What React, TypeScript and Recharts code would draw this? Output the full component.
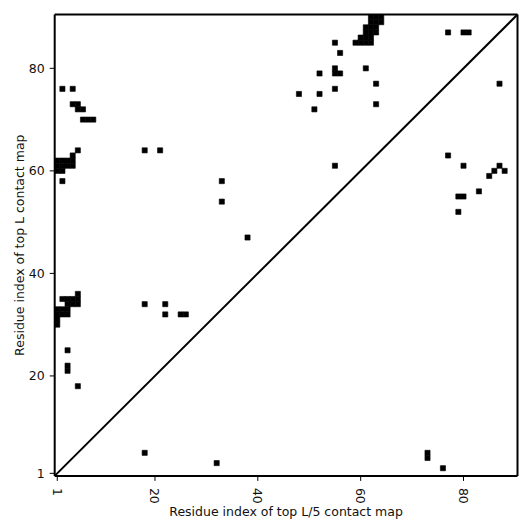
import React from "react";
import {
  ScatterChart,
  XAxis,
  YAxis,
  ReferenceArea,
  ReferenceLine,
} from "recharts";

// residue count, axes run 0.5 .. L + 0.5
const seqLength = 90;
const axisTicks = [1, 20, 40, 60, 80];

// top L contacts (upper triangle), [i, j]
const topLContacts: [number, number][] = [
  [2, 76], [4, 76], [4, 73], [5, 73], [5, 72], [6, 72], [6, 70], [7, 70], [8, 70],
  [5, 64], [18, 64], [21, 64], [4, 63],
  [1, 62], [2, 62], [3, 62], [4, 62], [1, 61], [2, 61], [3, 61], [4, 61],
  [1, 60], [2, 60], [2, 58],
  [33, 58], [33, 54], [38, 47],
  [5, 36], [2, 35], [3, 35], [4, 35], [5, 35], [3, 34], [4, 34], [5, 34],
  [1, 33], [2, 33], [3, 33], [1, 32], [2, 32], [3, 32], [1, 31], [1, 30],
  [3, 25], [3, 22], [3, 21], [5, 18],
  [18, 34], [22, 34], [22, 32], [25, 32], [26, 32],
  [55, 85], [56, 83], [55, 80], [55, 79], [56, 79], [52, 79], [48, 75], [52, 75],
  [55, 76], [51, 72], [61, 80], [63, 77], [63, 73], [55, 61],
  [62, 90], [63, 90], [64, 90], [62, 89], [63, 89], [64, 89],
  [61, 88], [62, 88], [63, 88], [61, 87], [62, 87], [63, 87],
  [60, 86], [61, 86], [62, 86], [59, 85], [60, 85], [61, 85], [62, 85],
  [77, 87], [80, 87], [81, 87],
];

// top L/5 contacts (lower triangle), [i, j]
const topL5Contacts: [number, number][] = [
  [18, 5], [32, 3], [73, 5], [73, 4], [76, 2],
  [77, 63], [80, 61], [87, 61], [86, 60], [88, 60], [85, 59],
  [83, 56], [79, 55], [80, 55], [79, 52], [87, 77],
];

const FONT = "'DejaVu Sans', sans-serif";
const domain: [number, number] = [0.5, seqLength + 0.5];

const XTick = (props: any) => {
  const { x, y, payload } = props;
  return (
    <text
      x={x}
      y={y}
      transform={`rotate(90, ${x}, ${y})`}
      textAnchor="start"
      dominantBaseline="central"
      fontSize={12.5}
      fontFamily={FONT}
      fill="#111"
    >
      {payload.value}
    </text>
  );
};

export default function App() {
  const cells = [...topLContacts, ...topL5Contacts];
  return (
    <div style={{ position: "absolute", left: 0, top: 0 }}>
      <ScatterChart
        width={531}
        height={531}
        margin={{ top: 9.5, right: 8.5, bottom: 5.1, left: 4.7 }}
      >
        <XAxis
          type="number"
          dataKey="x"
          domain={domain}
          ticks={axisTicks}
          allowDataOverflow
          height={50}
          tickSize={5}
          tickMargin={7}
          tick={<XTick />}
          axisLine={{ stroke: "#000", strokeWidth: 2 }}
          tickLine={{ stroke: "#000" }}
          label={{
            value: "Residue index of top L/5 contact map",
            position: "insideBottom",
            offset: 10,
            fontSize: 12.5,
            fontFamily: FONT,
            fill: "#111",
          }}
        />
        <XAxis
          xAxisId="top"
          orientation="top"
          type="number"
          domain={domain}
          ticks={axisTicks}
          allowDataOverflow
          height={5}
          tickSize={5}
          tick={false}
          axisLine={{ stroke: "#000", strokeWidth: 2 }}
          tickLine={{ stroke: "#000" }}
        />
        <YAxis
          type="number"
          dataKey="y"
          domain={domain}
          ticks={axisTicks}
          allowDataOverflow
          width={50}
          tickSize={5}
          tickMargin={5}
          tick={{ fontSize: 12.5, fontFamily: FONT, fill: "#111" }}
          axisLine={{ stroke: "#000", strokeWidth: 2 }}
          tickLine={{ stroke: "#000" }}
          label={{
            value: "Residue index of top L contact map",
            angle: -90,
            position: "insideLeft",
            offset: 15,
            fontSize: 12.5,
            fontFamily: FONT,
            fill: "#111",
            style: { textAnchor: "middle" },
          }}
        />
        <YAxis
          yAxisId="right"
          orientation="right"
          type="number"
          domain={domain}
          ticks={axisTicks}
          allowDataOverflow
          width={5}
          tickSize={5}
          tick={false}
          axisLine={{ stroke: "#000", strokeWidth: 2 }}
          tickLine={{ stroke: "#000" }}
        />
        {cells.map(([i, j], k) => (
          <ReferenceArea
            key={k}
            x1={i - 0.5}
            x2={i + 0.5}
            y1={j - 0.5}
            y2={j + 0.5}
            fill="#000"
            fillOpacity={1}
            stroke="#000"
            strokeWidth={0.6}
            ifOverflow="extendDomain"
          />
        ))}
        <ReferenceLine
          segment={[
            { x: domain[0], y: domain[0] },
            { x: domain[1], y: domain[1] },
          ]}
          stroke="#000"
          strokeWidth={2}
        />
      </ScatterChart>
    </div>
  );
}
